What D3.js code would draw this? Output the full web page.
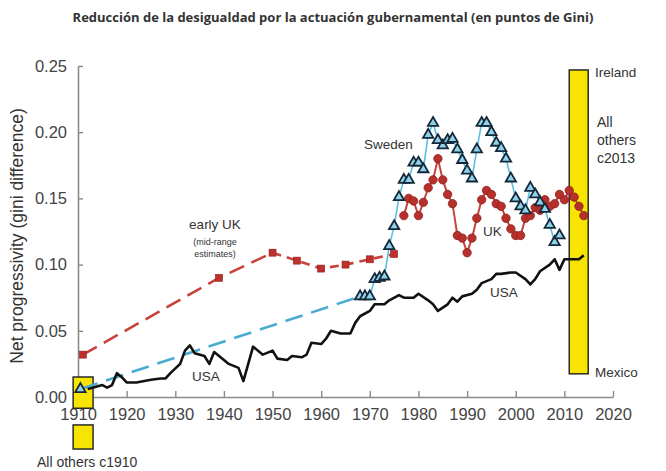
<!DOCTYPE html>
<html><head><meta charset="utf-8">
<script src="https://cdn.jsdelivr.net/npm/d3@7"></script>
<style>body{margin:0;background:#fff;} svg{display:block;}</style>
</head><body>
<svg id="chart" width="666" height="471"></svg>
<script>
// ---------- data ----------
const chartTitle = "Reducción de la desigualdad por la actuación gubernamental (en puntos de Gini)";
const yLabel = "Net progressivity (gini difference)";
const xTickValues = [1910, 1920, 1930, 1940, 1950, 1960, 1970, 1980, 1990, 2000, 2010, 2020];
const yTickValues = [0, 0.05, 0.10, 0.15, 0.20, 0.25];

const usaYears = [1912,1913,1915,1916,1917,1918,1919,1920,1922,1925,1927,1928,1929,1931,1932,1933,1934,1936,1937,1938,1939,1941,1943,1944,1946,1948,1950,1951,1953,1954,1956,1957,1958,1960,1961,1962,1964,1966,1967,1968,1970,1971,1973,1974,1976,1977,1979,1980,1982,1983,1984,1986,1987,1988,1989,1991,1992,1993,1995,1996,1997,1999,2000,2002,2003,2004,2005,2007,2008,2009,2010,2012,2013,2014];
const usaValues = [0.006,0.007,0.009,0.007,0.009,0.018,0.015,0.011,0.011,0.013,0.014,0.014,0.018,0.025,0.035,0.039,0.033,0.031,0.025,0.034,0.031,0.025,0.022,0.012,0.038,0.032,0.035,0.029,0.028,0.031,0.030,0.032,0.041,0.040,0.044,0.050,0.048,0.048,0.056,0.061,0.065,0.070,0.070,0.073,0.077,0.075,0.075,0.078,0.073,0.070,0.065,0.070,0.075,0.072,0.076,0.078,0.081,0.086,0.089,0.093,0.093,0.094,0.094,0.089,0.085,0.089,0.095,0.100,0.104,0.096,0.104,0.104,0.104,0.107];

const swedenEarlyYears = [1910.5, 1968];
const swedenEarlyValues = [0.006, 0.076];
const swedenYears = d3.range(1968, 2010);
const swedenValues = [0.076,0.076,0.076,0.089,0.090,0.091,0.114,0.129,0.151,0.164,0.164,0.177,0.177,0.172,0.198,0.207,0.194,0.190,0.194,0.195,0.187,0.179,0.171,0.165,0.187,0.207,0.207,0.200,0.192,0.188,0.180,0.165,0.150,0.144,0.141,0.158,0.153,0.147,0.142,0.130,0.117,0.122];

const ukYears = d3.range(1977, 2015);
const ukValues = [0.137,0.150,0.148,0.137,0.147,0.158,0.164,0.180,0.164,0.153,0.146,0.122,0.120,0.109,0.120,0.135,0.149,0.156,0.153,0.146,0.144,0.135,0.127,0.122,0.122,0.135,0.137,0.143,0.141,0.149,0.144,0.146,0.153,0.149,0.156,0.151,0.144,0.137];

const earlyUkYears = [1911, 1939, 1950, 1955, 1960, 1965, 1970, 1975];
const earlyUkValues = [0.032, 0.090, 0.109, 0.103, 0.097, 0.100, 0.104, 0.108];

// ranges of "all others" bars: [yearStart, yearEnd, valueLow, valueHigh]
const others1910Box = [1909, 1913.1, -0.0085, 0.0151];
const others1910Legend = [1909, 1913.1, -0.0393, -0.0211];
const others2013Box = [2011, 2014.9, 0.0175, 0.247];

// ---------- drawing ----------
const svg = d3.select("#chart");
const x = d3.scaleLinear().domain([1910, 2020]).range([78, 613]);
const y = d3.scaleLinear().domain([0, 0.25]).range([397, 66]);
const FONT = "'Liberation Sans', Arial, sans-serif";

svg.append("text").attr("x", 333).attr("y", 22).attr("text-anchor", "middle")
  .attr("font-family", "'Open Sans', sans-serif").attr("font-weight", "bold")
  .attr("font-size", 13).attr("fill", "#333").text(chartTitle);

// axes
const xAxis = d3.axisBottom(x).tickValues(xTickValues).tickFormat(d3.format("d"))
  .tickSizeInner(-6).tickSizeOuter(0).tickPadding(11);
const yAxis = d3.axisLeft(y).tickValues(yTickValues).tickFormat(d3.format(".2f"))
  .tickSizeInner(-5).tickSizeOuter(0).tickPadding(11);
const gx = svg.append("g").attr("transform", `translate(0,${y(0)})`).call(xAxis);
const gy = svg.append("g").attr("transform", `translate(${x(1910)},0)`).call(yAxis);
[gx, gy].forEach(g => {
  g.select(".domain").attr("stroke", "#8a8a8a").attr("stroke-width", 1.6);
  g.selectAll(".tick line").attr("stroke", "#8a8a8a").attr("stroke-width", 1.4);
  g.selectAll(".tick text").attr("font-family", FONT).attr("font-size", 16.5).attr("fill", "#444");
});

// yellow boxes (over the axes, under the data)
const yellow = "#f7e500";
function box(b) {
  svg.append("rect").attr("x", x(b[0])).attr("y", y(b[3]))
    .attr("width", x(b[1]) - x(b[0])).attr("height", y(b[2]) - y(b[3]))
    .attr("fill", yellow).attr("stroke", "#2a2a2a").attr("stroke-width", 1.5);
}
box(others1910Box); box(others1910Legend); box(others2013Box);

svg.append("text").attr("transform", `translate(23,236) rotate(-90)`)
  .attr("text-anchor", "middle").attr("font-family", FONT).attr("font-size", 17.5)
  .attr("fill", "#333").text(yLabel);

const line = d3.line().x(d => x(d[0])).y(d => y(d[1]));
const zip = (a, b) => a.map((v, i) => [v, b[i]]);

// early UK dashed
const earlyUk = zip(earlyUkYears, earlyUkValues);
svg.append("path").datum(earlyUk.slice(0, 3)).attr("d", line).attr("fill", "none")
  .attr("stroke", "#c8413a").attr("stroke-width", 2.6).attr("stroke-dasharray", "16,8");
svg.append("path").datum(earlyUk.slice(2)).attr("d", line).attr("fill", "none")
  .attr("stroke", "#c8413a").attr("stroke-width", 2.6).attr("stroke-dasharray", "9,6");

// Sweden dashed early
svg.append("path").datum(zip(swedenEarlyYears, swedenEarlyValues)).attr("d", line).attr("fill", "none")
  .attr("stroke", "#4aaad2").attr("stroke-width", 2.6).attr("stroke-dasharray", "18,9");

// USA
svg.append("path").datum(zip(usaYears, usaValues)).attr("d", line).attr("fill", "none")
  .attr("stroke", "#111").attr("stroke-width", 2.6).attr("stroke-linejoin", "round");

// Sweden line
const sweden = zip(swedenYears, swedenValues);
svg.append("path").datum(sweden).attr("d", line).attr("fill", "none")
  .attr("stroke", "#5bbfe2").attr("stroke-width", 1.6);

// UK line
const uk = zip(ukYears, ukValues);
svg.append("path").datum(uk).attr("d", line).attr("fill", "none")
  .attr("stroke", "#c4453e").attr("stroke-width", 2);

// early UK squares
svg.selectAll(".sq").data(earlyUk).join("rect").attr("class", "sq")
  .attr("x", d => x(d[0]) - 3.5).attr("y", d => y(d[1]) - 3.5)
  .attr("width", 7).attr("height", 7).attr("fill", "#bf2f2b").attr("stroke", "#8e1f1d").attr("stroke-width", 0.6);

// UK circles
svg.selectAll(".ukc").data(uk).join("circle").attr("class", "ukc")
  .attr("cx", d => x(d[0])).attr("cy", d => y(d[1])).attr("r", 4.2)
  .attr("fill", "#b8302c").attr("stroke", "#8e1f1d").attr("stroke-width", 0.8);

// Sweden triangles
const tri = d3.symbol(d3.symbolTriangle, 46);
svg.selectAll(".swt").data([[swedenEarlyYears[0], swedenEarlyValues[0]], ...sweden]).join("path").attr("class", "swt")
  .attr("d", tri).attr("transform", d => `translate(${x(d[0])},${y(d[1])})`)
  .attr("fill", "#8fd2ea").attr("stroke", "#14283a").attr("stroke-width", 1.8);

// annotations
function label(t, px, py, size, anchor) {
  svg.append("text").attr("x", px).attr("y", py).attr("font-family", FONT)
    .attr("font-size", size).attr("fill", "#333").attr("text-anchor", anchor || "start").text(t);
}
label("Sweden", 364, 149, 13.5);
label("UK", 483, 236, 13.5);
label("USA", 490, 297, 13.5);
label("USA", 192, 381, 13.5);
label("early UK", 215, 229, 13.5, "middle");
label("(mid-range", 215, 245, 9, "middle");
label("estimates)", 215, 257, 9, "middle");
label("Ireland", 595, 77, 13.5);
label("All", 597, 127, 14);
label("others", 597, 145, 14);
label("c2013", 597, 163, 14);
label("Mexico", 595, 377, 13.5);
label("All others c1910", 37, 467, 14);
</script>
</body></html>
